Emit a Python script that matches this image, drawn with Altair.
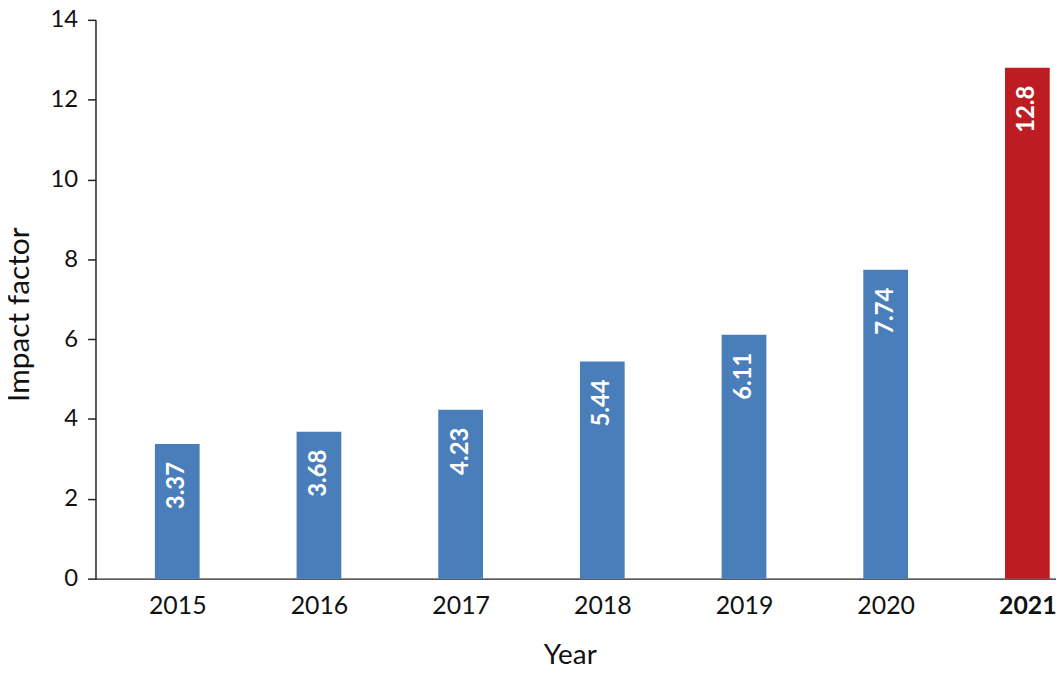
import altair as alt
import pandas as pd

years = [2015, 2016, 2017, 2018, 2019, 2020, 2021]
impact = [3.37, 3.68, 4.23, 5.44, 6.11, 7.74, 12.8]
labels = ["3.37", "3.68", "4.23", "5.44", "6.11", "7.74", "12.8"]
y_ticks = [0, 2, 4, 6, 8, 10, 12, 14]

df = pd.DataFrame({"year": years, "impact": impact, "label": labels})

FONT = "Lato"
W, H = 966, 562

x_enc = alt.X(
    "year:Q",
    scale=alt.Scale(domain=[2014.458, 2021.167], nice=False, zero=False),
    axis=alt.Axis(
        values=years, format="d", grid=False, ticks=False,
        labelFont=FONT, labelFontSize=25, labelColor="#111",
        labelPadding=15, labelFlush=False,
        labelFontWeight=alt.condition("datum.value == 2021", alt.value("bold"), alt.value("normal")),
        domainColor="#222", domainWidth=1.5,
        title="Year", titleFont=FONT, titleFontSize=28, titleFontWeight="normal",
        titleColor="#111", titleX=477, titleY=77, titleBaseline="middle",
    ),
)

y_enc = alt.Y(
    "impact:Q",
    scale=alt.Scale(domain=[0, 14], nice=False),
    axis=alt.Axis(
        values=y_ticks, grid=False, tickSize=8, tickColor="#222", tickWidth=1.5,
        labelFont=FONT, labelFontSize=24, labelColor="#111", labelPadding=10,
        domainColor="#222", domainWidth=1.5,
        title="Impact factor", titleFont=FONT, titleFontSize=30, titleFontWeight="normal",
        titleColor="#111", titleX=-76, titleY=296, titleBaseline="middle", titleAngle=270,
    ),
)

bars = alt.Chart(df).mark_bar(size=45).encode(
    x=x_enc,
    y=y_enc,
    color=alt.condition("datum.year == 2021", alt.value("#BD1D22"), alt.value("#4A7EBB")),
)

text = alt.Chart(df).mark_text(
    angle=270, align="right", baseline="middle", dx=-18,
    color="white", font=FONT, fontSize=24, fontWeight="bold",
).encode(
    x=alt.X("year:Q"),
    y=alt.Y("impact:Q"),
    text="label:N",
)

chart = (bars + text).properties(
    width=W, height=H,
    autosize=alt.AutoSizeParams(type="none"),
    padding={"left": 88, "top": 10, "right": 0, "bottom": 90},
).configure(background="white").configure_view(stroke=None)

chart.save("out.html", embed_options={"renderer": "svg", "actions": False})
